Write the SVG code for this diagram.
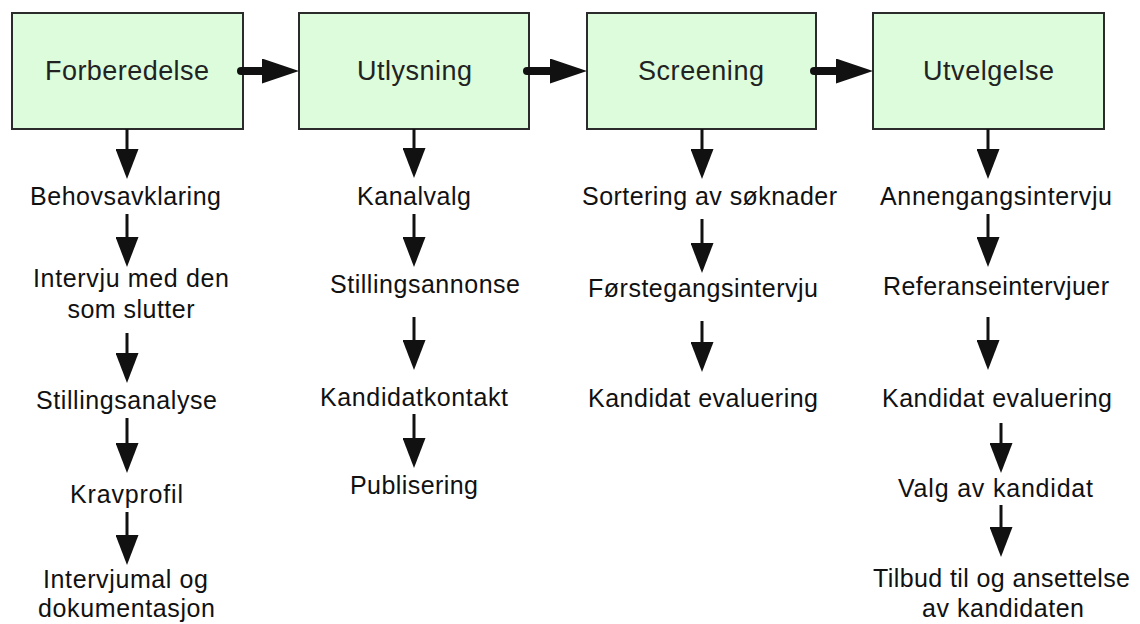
<svg xmlns="http://www.w3.org/2000/svg" width="1140" height="624" viewBox="0 0 1140 624">
<style>
  .box { fill: #dcfcdc; stroke: #2b2b2b; stroke-width: 2; }
  .title { font-family: "Liberation Sans", Arial, sans-serif; font-size: 27px; fill: #222; text-anchor: middle; }
  .item { font-family: "Liberation Sans", Arial, sans-serif; font-size: 25px; fill: #111; text-anchor: middle; }
  .hconn { stroke: #111; stroke-width: 8; stroke-linecap: round; fill: none; }
  .vconn { stroke: #111; stroke-width: 3; fill: none; }
</style>
<defs>
  <marker id="hArrow" markerUnits="userSpaceOnUse" viewBox="0 0 37 25" markerWidth="37" markerHeight="25" refX="4" refY="12.5" orient="auto">
    <path d="M0,0 L37,12.5 L0,25 Z" fill="#111"/>
  </marker>
  <marker id="vArrow" markerUnits="userSpaceOnUse" viewBox="0 0 30 23" markerWidth="30" markerHeight="23" refX="18" refY="11.5" orient="auto">
    <path d="M0,0 L30,11.5 L0,23 Z" fill="#111"/>
  </marker>
</defs>
<rect width="1140" height="624" fill="#ffffff"/>

<g id="node-forberedelse">
  <rect class="box" x="12" y="13" width="231" height="116"/>
  <text class="title" x="127" y="80" textLength="164">Forberedelse</text>
</g>
<g id="node-utlysning">
  <rect class="box" x="299" y="13" width="230" height="116"/>
  <text class="title" x="414.5" y="80" textLength="115">Utlysning</text>
</g>
<g id="node-screening">
  <rect class="box" x="587" y="13" width="229" height="116"/>
  <text class="title" x="701" y="80" textLength="126">Screening</text>
</g>
<g id="node-utvelgelse">
  <rect class="box" x="873" y="13" width="231" height="116"/>
  <text class="title" x="988.5" y="80" textLength="131">Utvelgelse</text>
</g>

<g id="col1-items">
  <text class="item" x="125.5" y="205" textLength="191">Behovsavklaring</text>
  <text class="item" x="131" y="287" textLength="196">Intervju med den</text>
  <text class="item" x="131" y="318" textLength="127">som slutter</text>
  <text class="item" x="126.5" y="409" textLength="181">Stillingsanalyse</text>
  <text class="item" x="126.5" y="503" textLength="113">Kravprofil</text>
  <text class="item" x="125.5" y="588" textLength="165">Intervjumal og</text>
  <text class="item" x="126.5" y="617" textLength="177">dokumentasjon</text>
</g>
<g id="col2-items">
  <text class="item" x="414" y="205" textLength="114">Kanalvalg</text>
  <text class="item" x="425" y="293" textLength="190">Stillingsannonse</text>
  <text class="item" x="414" y="406" textLength="188">Kandidatkontakt</text>
  <text class="item" x="414" y="494" textLength="128">Publisering</text>
</g>
<g id="col3-items">
  <text class="item" x="709.5" y="205" textLength="255">Sortering av søknader</text>
  <text class="item" x="703" y="297" textLength="230">Førstegangsintervju</text>
  <text class="item" x="703" y="407" textLength="230">Kandidat evaluering</text>
</g>
<g id="col4-items">
  <text class="item" x="996" y="205" textLength="232">Annengangsintervju</text>
  <text class="item" x="996" y="295" textLength="226">Referanseintervjuer</text>
  <text class="item" x="997" y="407" textLength="230">Kandidat evaluering</text>
  <text class="item" x="995.5" y="497" textLength="195">Valg av kandidat</text>
  <text class="item" x="1001.5" y="587" textLength="257">Tilbud til og ansettelse</text>
  <text class="item" x="1003" y="617" textLength="162">av kandidaten</text>
</g>

<g id="connectors">
  <line class="hconn" x1="241" y1="71" x2="266" y2="71" marker-end="url(#hArrow)"/>
  <line class="hconn" x1="527" y1="71" x2="554" y2="71" marker-end="url(#hArrow)"/>
  <line class="hconn" x1="814" y1="71" x2="840" y2="71" marker-end="url(#hArrow)"/>

  <line class="vconn" x1="127" y1="129" x2="127" y2="167" marker-end="url(#vArrow)"/>
  <line class="vconn" x1="127" y1="214" x2="127" y2="255" marker-end="url(#vArrow)"/>
  <line class="vconn" x1="127" y1="333" x2="127" y2="371" marker-end="url(#vArrow)"/>
  <line class="vconn" x1="127" y1="418" x2="127" y2="461" marker-end="url(#vArrow)"/>
  <line class="vconn" x1="127" y1="512" x2="127" y2="553" marker-end="url(#vArrow)"/>

  <line class="vconn" x1="414" y1="129" x2="414" y2="166" marker-end="url(#vArrow)"/>
  <line class="vconn" x1="414" y1="214" x2="414" y2="255" marker-end="url(#vArrow)"/>
  <line class="vconn" x1="414" y1="317" x2="414" y2="358" marker-end="url(#vArrow)"/>
  <line class="vconn" x1="414" y1="414" x2="414" y2="456" marker-end="url(#vArrow)"/>

  <line class="vconn" x1="702" y1="129" x2="702" y2="167" marker-end="url(#vArrow)"/>
  <line class="vconn" x1="702" y1="219" x2="702" y2="261" marker-end="url(#vArrow)"/>
  <line class="vconn" x1="702" y1="321" x2="702" y2="360" marker-end="url(#vArrow)"/>

  <line class="vconn" x1="988" y1="129" x2="988" y2="167" marker-end="url(#vArrow)"/>
  <line class="vconn" x1="988" y1="214" x2="988" y2="255" marker-end="url(#vArrow)"/>
  <line class="vconn" x1="988" y1="317" x2="988" y2="358" marker-end="url(#vArrow)"/>
  <line class="vconn" x1="1001" y1="423" x2="1001" y2="461" marker-end="url(#vArrow)"/>
  <line class="vconn" x1="1001" y1="505" x2="1001" y2="545" marker-end="url(#vArrow)"/>
</g>
</svg>
